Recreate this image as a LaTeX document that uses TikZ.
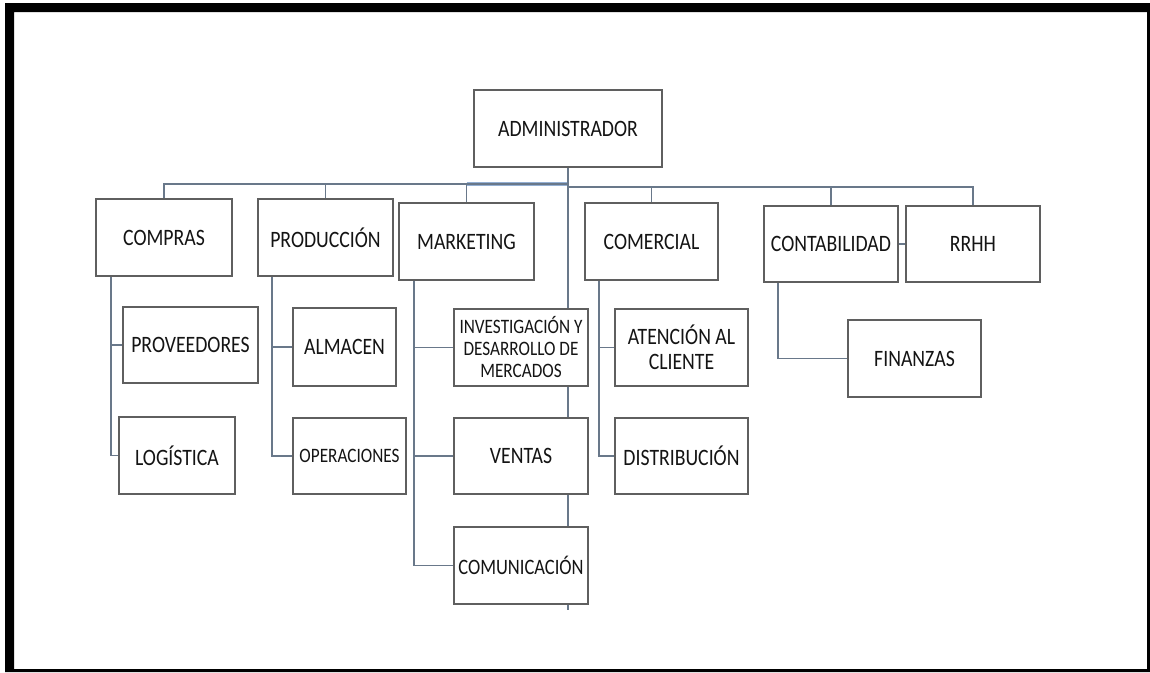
\documentclass[tikz,border=0pt]{standalone}
\usepackage{fontspec}
\setmainfont{Carlito}[FakeStretch=0.84]
\pgfdeclarelayer{bg}
\pgfsetlayers{bg,main}
\definecolor{linec}{RGB}{105,120,138}
\definecolor{boxc}{RGB}{95,95,95}
\definecolor{busblue}{RGB}{120,155,200}
\definecolor{txt}{RGB}{20,20,20}
\tikzset{
  unit/.style={draw=boxc, line width=1.4pt, fill=white, inner sep=0pt, align=center, text=txt,
    font=\fontsize{23.5}{25}\selectfont},
  small/.style={font=\fontsize{20.5}{22}\selectfont},
  conn/.style={draw=linec, line width=1.3pt},
  bluebus/.style={draw=busblue, line width=4pt, opacity=0.8}
}
\begin{document}
\begin{tikzpicture}[x=1pt,y=-1pt]
\useasboundingbox (0,0) rectangle (1150,672);
\begin{pgfonlayer}{bg}
\fill[white] (0,0) rectangle (1150,672);
\end{pgfonlayer}
\fill[black,even odd rule] (5,3) rectangle (1150,672) (14,12) rectangle (1147,669);

\node[unit, minimum width=188pt, minimum height=77pt] (admin) at (568,128.5) {ADMINISTRADOR};
\node[unit, minimum width=136pt, minimum height=77pt] (compras) at (164,237.5) {COMPRAS};
\node[unit, minimum width=135pt, minimum height=77pt] (produccion) at (325.5,237.5) {PRODUCCIÓN};
\node[unit, minimum width=135pt, minimum height=77pt] (marketing) at (466.5,241.5) {MARKETING};
\node[unit, minimum width=133pt, minimum height=77pt] (comercial) at (651.5,241.5) {COMERCIAL};
\node[unit, minimum width=134pt, minimum height=76pt] (contabilidad) at (831,244) {CONTABILIDAD};
\node[unit, minimum width=134pt, minimum height=76pt] (rrhh) at (973,244) {RRHH};

\node[unit, minimum width=135pt, minimum height=76pt] (proveedores) at (190.5,345) {PROVEEDORES};
\node[unit, minimum width=116pt, minimum height=77pt] (logistica) at (177,455.5) {LOGÍSTICA};
\node[unit, minimum width=103pt, minimum height=78pt] (almacen) at (344.5,347) {ALMACEN};
\node[unit, small, minimum width=113pt, minimum height=76pt] (operaciones) at (349.5,456) {OPERACIONES};
\node[unit, small, minimum width=134pt, minimum height=77pt] (investigacion) at (521,347.5) {INVESTIGACIÓN Y\\DESARROLLO DE\\MERCADOS};
\node[unit, minimum width=134pt, minimum height=76pt] (ventas) at (521,456) {VENTAS};
\node[unit, minimum width=134pt, minimum height=77pt, font=\fontsize{22}{23}\selectfont] (comunicacion) at (521,565.5) {COMUNICACIÓN};
\node[unit, minimum width=133pt, minimum height=77pt] (atencion) at (681.5,347.5) {ATENCIÓN AL\\CLIENTE};
\node[unit, minimum width=133pt, minimum height=76pt] (distribucion) at (681.5,456) {DISTRIBUCIÓN};
\node[unit, minimum width=133pt, minimum height=77pt] (finanzas) at (914.5,358.5) {FINANZAS};

\coordinate (busA) at (568,184);
\coordinate (busB) at (568,187);
\coordinate (adminend) at (568,610);
\coordinate (cTop) at (111,276);
\coordinate (pTop) at (272,276);
\coordinate (mTop) at (414,280);
\coordinate (kTop) at (599,280);
\coordinate (tTop) at (778,282);

\begin{pgfonlayer}{bg}
  \draw[bluebus] (marketing.north |- busA) -- (busA);
  \draw[conn] (admin.south) -- (adminend);
  \draw[conn] (compras.north) |- (busA);
  \draw[conn] (produccion.north) -- (produccion.north |- busA);
  \draw[conn] (marketing.north) -- (marketing.north |- busA);
  \draw[conn] (rrhh.north) |- (busB);
  \draw[conn] (comercial.north) -- (comercial.north |- busB);
  \draw[conn] (contabilidad.north) -- (contabilidad.north |- busB);
  \draw[conn] (cTop) |- (logistica.west);
  \draw[conn] (proveedores.west) -- (proveedores.west -| cTop);
  \draw[conn] (pTop) |- (operaciones.west);
  \draw[conn] (almacen.west) -- (almacen.west -| pTop);
  \draw[conn] (mTop) |- (comunicacion.west);
  \draw[conn] (investigacion.west) -- (investigacion.west -| mTop);
  \draw[conn] (ventas.west) -- (ventas.west -| mTop);
  \draw[conn] (kTop) |- (distribucion.west);
  \draw[conn] (atencion.west) -- (atencion.west -| kTop);
  \draw[conn] (tTop) |- (finanzas.west);
  \draw[conn] (contabilidad.east) -- (rrhh.west);
\end{pgfonlayer}
\end{tikzpicture}
\end{document}
